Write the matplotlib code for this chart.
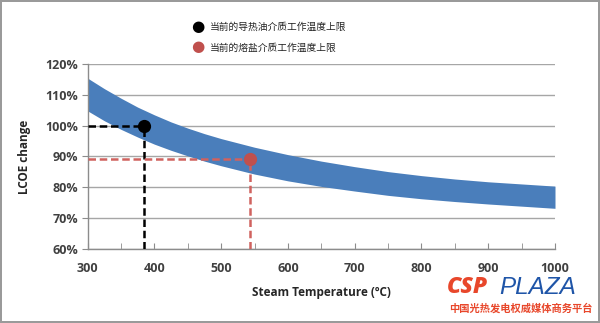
import matplotlib
matplotlib.use("Agg")
import matplotlib.pyplot as plt
from matplotlib.ticker import MultipleLocator, FuncFormatter

# LCOE band vs steam temperature (finer steps where the curve bends most)
temps = [300, 325, 350, 375, 400, 425, 450, 475, 500, 550, 600, 650, 700, 750, 800, 850, 900, 950, 1000]
lcoe_upper = [115.4, 112.0, 108.9, 106.0, 103.5, 101.2, 99.2, 97.4, 95.8, 93.0, 90.6, 88.5, 86.7, 85.1, 83.8, 82.7, 81.8, 81.1, 80.4]
lcoe_lower = [104.8, 101.6, 98.8, 96.3, 94.0, 92.0, 90.2, 88.5, 87.0, 84.3, 82.1, 80.3, 78.8, 77.4, 76.3, 75.4, 74.6, 73.9, 73.2]

# working temperature limits: (temperature, LCOE %)
oil_limit = (384, 100.0)
salt_limit = (543, 89.3)
legend_labels = ["当前的导热油介质工作温度上限", "当前的熔盐介质工作温度上限"]

x_ticks = [300, 400, 500, 600, 700, 800, 900, 1000]
y_ticks = [60, 70, 80, 90, 100, 110, 120]

BLUE = "#4a7ebb"
RED = "#c0504d"
LBL = "#404040"

plt.rcParams["font.family"] = ["Open Sans", "DejaVu Sans"]

fig = plt.figure(figsize=(6.0, 3.23), dpi=100)
fig.patch.set_edgecolor("#9a9a9a")
fig.patch.set_linewidth(1.5)
ax = fig.add_axes([0.146, 0.229, 0.779, 0.573])

ax.fill_between(temps, lcoe_lower, lcoe_upper, color=BLUE, lw=0, zorder=2)

# guide lines to each limit point
dash = (0, (3, 1.5))
ax.plot([300, oil_limit[0]], [oil_limit[1], oil_limit[1]], ls=dash, color="black", lw=1.8, zorder=3)
ax.plot([oil_limit[0], oil_limit[0]], [60, oil_limit[1]], ls=dash, color="black", lw=1.8, zorder=3)
ax.plot([300, salt_limit[0]], [salt_limit[1], salt_limit[1]], ls=dash, color="#d0625f", lw=1.8, zorder=3)
ax.plot([salt_limit[0], salt_limit[0]], [60, salt_limit[1]], ls=dash, color="#d0625f", lw=1.8, zorder=3)
ax.plot(*oil_limit, "o", color="black", ms=8.5, zorder=4)
ax.plot(*salt_limit, "o", color=RED, ms=8.5, zorder=4)

ax.set_xlim(300, 1000)
ax.set_ylim(60, 120)
ax.set_xticks(x_ticks)
ax.xaxis.set_minor_locator(MultipleLocator(50))
ax.set_yticks(y_ticks)
ax.yaxis.set_major_formatter(FuncFormatter(lambda v, p: f"{v:.0f}%"))
ax.grid(axis="y", color="#a6a6a6", lw=1.0, zorder=1)
ax.set_axisbelow(True)

for s in ["top", "right"]:
    ax.spines[s].set_visible(False)
for s in ["left", "bottom"]:
    ax.spines[s].set_color("#8c8c8c")
    ax.spines[s].set_linewidth(1.0)

ax.tick_params(axis="y", direction="out", length=4, color="#8c8c8c", labelsize=9, labelcolor=LBL, pad=3)
ax.tick_params(axis="x", which="both", direction="in", length=4, color="#8c8c8c", labelsize=9, labelcolor=LBL, pad=9)
for lbl in ax.get_xticklabels() + ax.get_yticklabels():
    lbl.set_fontweight("bold")

ax.set_xlabel("Steam Temperature (ºC)", fontsize=8.5, fontweight="bold", color="#262626", labelpad=8)
ax.set_ylabel("LCOE change", fontsize=8.5, fontweight="bold", color="#262626", labelpad=10)

# legend markers and labels at the top
cjk = ["Noto Sans CJK SC", "DejaVu Sans"]
fig.text(0.330, 0.916, "●", fontsize=11, color="black", ha="center", va="center")
fig.text(0.330, 0.853, "●", fontsize=11, color=RED, ha="center", va="center")
fig.text(0.350, 0.916, legend_labels[0], fontsize=7, color="#222222", family=cjk, va="center")
fig.text(0.350, 0.853, legend_labels[1], fontsize=7, color="#222222", family=cjk, va="center")

# site mark, bottom right
fig.text(0.745, 0.110, "CSP", fontsize=16.5, fontweight="heavy", style="italic", color="#e8472b", va="center")
fig.text(0.832, 0.110, "PLAZA", fontsize=17.5, style="italic", color="#1f55a8", va="center",
         family=["Liberation Sans", "DejaVu Sans"])
fig.text(0.748, 0.045, "中国光热发电权威媒体商务平台", fontsize=7.4, fontweight="bold", color="#e8472b",
         family=cjk, va="center")

fig.savefig("out.png", dpi=100, edgecolor=fig.get_edgecolor())
